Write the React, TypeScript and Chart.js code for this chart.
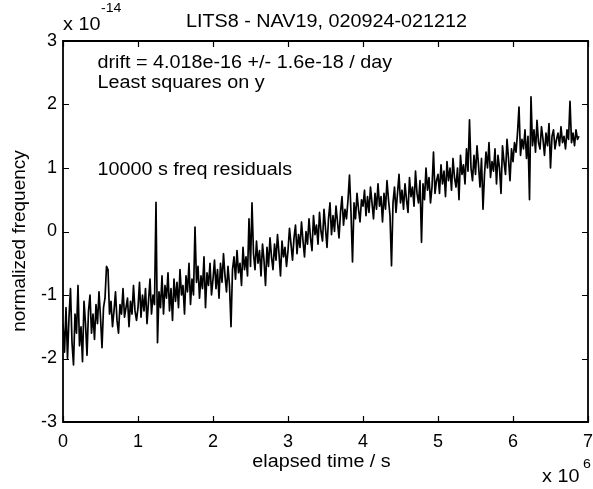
import React, { useEffect, useRef } from "react";
import { Chart, registerables } from "chart.js";

Chart.register(...registerables);

// ---------- data (normalized frequency residuals, units of 1e-14) ----------
const sampleStepSeconds = 20000; // one value every 20000 s
const elapsedScale = 1e6; // x axis shown in units of 1e6 s
const xTickValues = [0, 1, 2, 3, 4, 5, 6, 7];
const yTickValues = [-3, -2, -1, 0, 1, 2, 3];

const titleText = "LITS8 - NAV19, 020924-021212";
const xAxisTitle = "elapsed time / s";
const yAxisTitle = "normalized frequency";
const noteLines = ["drift = 4.018e-16 +/- 1.6e-18 / day", "Least squares on y"];
const noteResiduals = "10000 s freq residuals";

// 0.00 - 0.98 (x 1e6 s)
const seg0 = [
  -1.45, -1.9, -1.2, -2.0, -1.35, -0.9, -1.75, -2.1, -1.3, -1.6,
  -0.85, -1.8, -1.5, -2.05, -1.1, -1.45, -1.95, -1.25, -1.0, -1.6,
  -1.3, -1.7, -1.15, -1.45, -0.95, -1.35, -1.83, -1.2, -1.05, -0.55,
  -0.6, -1.3, -1.1, -1.5, -1.25, -0.95, -1.4, -1.6, -1.15, -1.3,
  -0.9, -1.35, -1.2, -1.05, -1.5, -1.1, -1.3, -0.85, -1.25, -1.4,
];
// 1.00 - 1.98
const seg1 = [
  -1.2, -0.8, -1.35, -1.0, -1.25, -0.9, -1.45, -1.1, -0.75, -1.3,
  -1.0, -1.15, 0.46, -1.75, -0.95, -1.2, -0.7, -1.3, -0.85, -1.05,
  -0.65, -1.25, -0.9, -1.4, -0.75, -1.1, -0.8, -1.2, -0.6, -1.0,
  -0.85, -1.3, -0.7, -0.95, -0.5, -1.15, -0.75, -1.0, 0.07, -0.8,
  -0.55, -1.05, -0.7, -0.9, -0.4, -1.2, -0.65, -0.85, -0.5, -1.0,
];
// 2.00 - 2.98
const seg2 = [
  -0.75, -0.45, -0.9, -0.6, -1.05, -0.5, -0.8, -0.35, -0.7, -0.95,
  -0.55, -0.85, -1.5, -0.6, -0.4, -0.75, -0.3, -0.65, -0.5, -0.85,
  -0.25, -0.6, -0.4, -0.7, 0.2, -0.55, 0.45, -0.35, -0.6, -0.15,
  -0.5, -0.3, -0.7, -0.2, -0.45, -0.85, -0.25, -0.55, -0.1, -0.4,
  -0.6, -0.2, -0.45, -0.05, -0.35, -0.7, -0.15, -0.4, -0.25, -0.55,
];
// 3.00 - 3.98
const seg3 = [
  -0.3, 0.05, -0.2, -0.45, -0.1, 0.1, -0.35, -0.05, -0.25, 0.15,
  -0.15, -0.4, 0.0, -0.2, 0.2, -0.1, -0.3, 0.25, -0.05, 0.1,
  -0.2, 0.3, 0.0, -0.15, 0.35, 0.05, -0.25, 0.2, 0.45, -0.05,
  0.25, 0.0, 0.4, 0.15, -0.1, 0.3, 0.55, 0.1, 0.35, 0.2,
  0.5, 0.89, 0.3, -0.48, 0.45, 0.2, 0.6, 0.35, 0.15, 0.5,
];
// 4.00 - 4.98
const seg4 = [
  0.4, 0.65, 0.25, 0.55, 0.3, 0.7, 0.45, 0.2, 0.6, 0.35,
  0.75, 0.4, 0.55, 0.15, 0.6, 0.35, 0.8, 0.5, 0.25, -0.54,
  0.45, 0.7, 0.3, 0.6, 0.9, 0.45, 0.65, 0.35, 0.75, 0.5,
  0.3, 0.85, 0.55, 0.7, 0.4, 0.95, 0.6, 0.45, 0.8, -0.17,
  0.75, 0.5, 1.0, 0.65, 0.85, 0.45, 0.7, 1.25, 0.6, 0.8,
];
// 5.00 - 5.98
const seg5 = [
  0.9, 0.6, 1.05, 0.75, 0.95, 0.55, 1.1, 0.8, 1.0, 0.65,
  1.15, 0.85, 0.7, 1.0, 0.5, 1.2, 0.9, 1.05, 0.75, 1.3,
  0.95, 1.76, 1.0, 0.8, 1.2, 0.9, 1.35, 1.05, 0.7, 1.15,
  0.35, 0.9, 1.25, 1.0, 1.4, 0.85, 1.1, 0.95, 1.3, 0.75,
  1.2, 1.0, 0.6, 1.35, 1.1, 0.9, 1.45, 1.15, 0.8, 1.3,
];
// 6.00 - 6.88
const seg6 = [
  1.1, 1.4, 1.25, 1.55, 1.96, 1.2, 1.45, 1.3, 1.6, 1.15,
  1.5, 0.5, 2.12, 1.35, 1.6, 1.25, 1.75, 1.4, 1.3, 1.65,
  1.45, 1.2, 1.55, 1.35, 1.7, 1.0, 1.5, 1.6, 1.3, 1.45,
  1.55, 1.35, 1.65, 1.4, 1.5, 1.3, 1.6, 1.45, 2.05, 1.4,
  1.55, 1.35, 1.6, 1.45, 1.5,
];

const residuals = [...seg0, ...seg1, ...seg2, ...seg3, ...seg4, ...seg5, ...seg6];

const FONT = '"Liberation Sans", Arial, Helvetica, sans-serif';
const TEXT_SX = 1.13;

function drawText(
  ctx: CanvasRenderingContext2D,
  text: string,
  x: number,
  y: number,
  size: number,
  align: CanvasTextAlign,
  sx = TEXT_SX
) {
  ctx.save();
  ctx.translate(x, y);
  ctx.scale(sx, 1);
  ctx.font = `${size}px ${FONT}`;
  ctx.textAlign = align;
  ctx.textBaseline = "alphabetic";
  ctx.fillStyle = "#000";
  ctx.fillText(text, 0, 0);
  ctx.restore();
}

const matlabFrame = {
  id: "matlabFrame",
  afterDraw(chart: any) {
    const { ctx, chartArea: a, scales } = chart;
    const xs = scales.x;
    const ys = scales.y;
    ctx.save();
    ctx.strokeStyle = "#000";
    ctx.lineWidth = 1.8;
    ctx.beginPath();
    ctx.rect(a.left, a.top, a.right - a.left, a.bottom - a.top);
    ctx.stroke();
    const tick = 6;
    ctx.lineWidth = 1.2;
    ctx.beginPath();
    xTickValues.forEach((v) => {
      const px = Math.round(xs.getPixelForValue(v)) + 0.5;
      ctx.moveTo(px, a.bottom);
      ctx.lineTo(px, a.bottom - tick);
      ctx.moveTo(px, a.top);
      ctx.lineTo(px, a.top + tick);
    });
    yTickValues.forEach((v) => {
      const py = Math.round(ys.getPixelForValue(v)) + 0.5;
      ctx.moveTo(a.left, py);
      ctx.lineTo(a.left + tick, py);
      ctx.moveTo(a.right, py);
      ctx.lineTo(a.right - tick, py);
    });
    ctx.stroke();
    ctx.restore();

    // title and exponent labels
    drawText(ctx, titleText, (a.left + a.right) / 2 + 1, 27, 17.5, "center");
    drawText(ctx, "x 10", 63, 30, 17.5, "left");
    drawText(ctx, "-14", 101, 12, 12.5, "left");
    drawText(ctx, "x 10", 542, 482, 17.5, "left");
    drawText(ctx, "6", 583, 468, 12.5, "left");
    drawText(ctx, xAxisTitle, (a.left + a.right) / 2 - 4, 467, 17.5, "center");

    // y axis title (rotated)
    ctx.save();
    ctx.translate(25, 241);
    ctx.rotate(-Math.PI / 2);
    ctx.font = `19px ${FONT}`;
    ctx.textAlign = "center";
    ctx.textBaseline = "alphabetic";
    ctx.fillStyle = "#000";
    ctx.fillText(yAxisTitle, 0, 0);
    ctx.restore();

    // annotations inside the axes
    const left = xs.getPixelForValue(0.46);
    drawText(ctx, noteLines[0], left, 68, 17.5, "left");
    drawText(ctx, noteLines[1], left, 88, 17.5, "left");
    drawText(ctx, noteResiduals, left, 175, 17.5, "left");
  },
};

export default function App() {
  const canvasRef = useRef<HTMLCanvasElement | null>(null);

  useEffect(() => {
    const canvas = canvasRef.current;
    if (!canvas) return;
    const points = residuals.map((v, i) => ({
      x: (i * sampleStepSeconds) / elapsedScale,
      y: v,
    }));
    const chart = new Chart(canvas, {
      type: "line",
      data: {
        datasets: [
          {
            data: points,
            borderColor: "#000",
            borderWidth: 1.7,
            borderJoinStyle: "round",
            pointRadius: 0,
            fill: false,
            tension: 0,
          },
        ],
      },
      options: {
        animation: false,
        responsive: false,
        devicePixelRatio: 1,
        layout: { padding: { left: 0, right: 5, top: 41, bottom: 0 } },
        plugins: {
          legend: { display: false },
          tooltip: { enabled: false },
          title: { display: false },
        },
        scales: {
          x: {
            type: "linear",
            min: 0,
            max: 7,
            afterBuildTicks: (s: any) => {
              s.ticks = xTickValues.map((v) => ({ value: v }));
            },
            afterFit: (s: any) => {
              s.height = 67;
              s.paddingLeft = 0;
              s.paddingRight = 0;
            },
            grid: { display: false, drawTicks: false },
            border: { display: false },
            ticks: {
              color: "#000",
              font: { family: FONT, size: 18 },
              padding: 9,
              maxRotation: 0,
              autoSkip: false,
            },
          },
          y: {
            type: "linear",
            min: -3,
            max: 3,
            afterBuildTicks: (s: any) => {
              s.ticks = yTickValues.map((v) => ({ value: v }));
            },
            afterFit: (s: any) => {
              s.width = 63;
              s.paddingTop = 0;
              s.paddingBottom = 0;
            },
            grid: { display: false, drawTicks: false },
            border: { display: false },
            ticks: {
              color: "#000",
              font: { family: FONT, size: 18 },
              padding: 6,
              autoSkip: false,
            },
          },
        },
      },
      plugins: [matlabFrame],
    });
    return () => chart.destroy();
  }, []);

  return (
    <div style={{ position: "fixed", left: 0, top: 0, width: 593, height: 489, background: "#fff" }}>
      <canvas ref={canvasRef} width={593} height={489} style={{ display: "block" }} />
    </div>
  );
}
